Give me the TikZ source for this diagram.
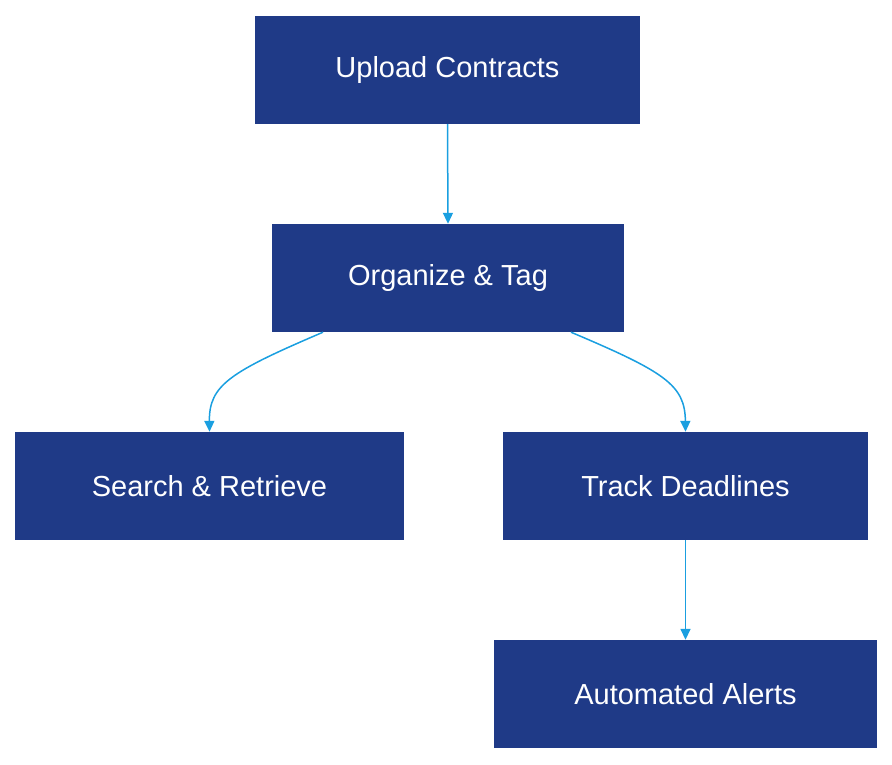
\documentclass[tikz,border=0pt]{standalone}
\usepackage{fontspec}
\setmainfont{Liberation Sans}
\usetikzlibrary{arrows.meta}
\definecolor{boxc}{HTML}{1F3A87}
\definecolor{arrc}{HTML}{1A9FE0}
\begin{document}
\begin{tikzpicture}[x=1pt,y=-1pt,
  box/.style={fill=boxc,draw=none,inner sep=0,text=white,font=\fontsize{29}{34}\selectfont},
  conn/.style={draw=arrc,line width=1.5pt,-{Triangle[length=11pt,width=10pt]}}]
\useasboundingbox (0,0) rectangle (892,764);
\node[box,minimum width=385pt,minimum height=108pt] (up) at (447.5,70) {Upload Contracts};
\node[box,minimum width=352pt,minimum height=108pt] (org) at (448,278) {Organize \& Tag};
\node[box,minimum width=389pt,minimum height=108pt] (sr) at (209.5,486) {Search \& Retrieve};
\node[box,minimum width=365pt,minimum height=108pt] (td) at (685.5,486) {Track Deadlines};
\node[box,minimum width=383pt,minimum height=108pt] (aa) at (685.5,694) {Automated Alerts};
\draw[conn] (up.south) -- (org.north);
\draw[conn] ([xshift=-125pt]org.south) .. controls (230,372) and (209,385) .. (sr.north);
\draw[conn] ([xshift=123pt]org.south) .. controls (665,372) and (685,385) .. (td.north);
\draw[conn] (td.south) -- (aa.north);
\end{tikzpicture}
\end{document}
